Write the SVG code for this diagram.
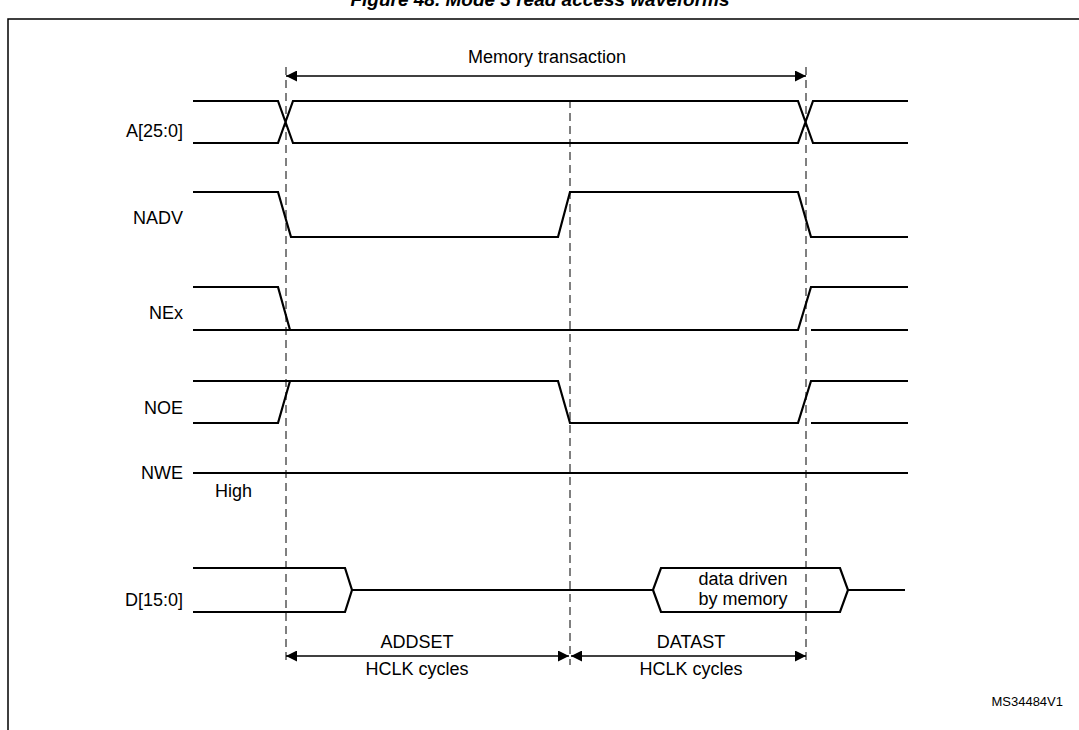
<svg xmlns="http://www.w3.org/2000/svg" width="1079" height="730" viewBox="0 0 1079 730">
<style>
text{font-family:"Liberation Sans",Arial,sans-serif;font-size:18px;fill:#000}
.lbl{text-anchor:end}
.w{fill:none;stroke:#000;stroke-width:2.2}
.d{fill:none;stroke:#000;stroke-width:1;stroke-dasharray:8,5}
.a{fill:none;stroke:#000;stroke-width:1.5}
</style>
<defs>
<marker id="ar" viewBox="0 0 10 10" refX="10" refY="5" markerWidth="11" markerHeight="11" markerUnits="userSpaceOnUse" orient="auto-start-reverse"><path d="M0,0L10,5L0,10z" fill="#000"/></marker>
</defs>
<rect width="1079" height="730" fill="#fff"/>
<text x="540" y="6" text-anchor="middle" style="font-weight:bold;font-style:italic;font-size:19px">Figure 48. Mode 3 read access waveforms</text>
<path d="M8,730V19H1079" fill="none" stroke="#000" stroke-width="1.5"/>
<g id="connectors">
<path class="d" d="M286,67V665M570,100V665M806,67V665"/>
<path class="a" d="M286,76H806" marker-start="url(#ar)" marker-end="url(#ar)"/>
<path class="a" d="M286,656H569" marker-start="url(#ar)" marker-end="url(#ar)"/>
<path class="a" d="M571,656H806" marker-start="url(#ar)" marker-end="url(#ar)"/>
</g>
<g id="A"><text class="lbl" x="183" y="137">A[25:0]</text>
<path class="w" d="M193,101H278L293,143H798L813,101H908M193,143H278L293,101H798L813,143H908"/></g>
<g id="NADV"><text class="lbl" x="183" y="224">NADV</text>
<path class="w" d="M193,192H278L291,237H558L570,192H798L811,237H908"/></g>
<g id="NEx"><text class="lbl" x="183" y="319">NEx</text>
<path class="w" d="M193,287H278L290,330H798L811,287H908M193,330H290M811,330H908"/></g>
<g id="NOE"><text class="lbl" x="183" y="414">NOE</text>
<path class="w" d="M193,423H278L290,381H558L570,423H798L811,381H908M193,381H290M811,423H908"/></g>
<g id="NWE"><text class="lbl" x="183" y="479">NWE</text><text x="215" y="497">High</text>
<path class="w" d="M193,473H908"/></g>
<g id="D"><text class="lbl" x="183" y="606">D[15:0]</text>
<path class="w" d="M193,568H345L352,590L345,612H193M352,590H653L661,568H840L848,590L840,612H661L653,590M848,590H905"/>
<text x="743" y="585" text-anchor="middle">data driven</text><text x="743" y="605" text-anchor="middle">by memory</text></g>
<g id="labels">
<text x="547" y="63" text-anchor="middle">Memory transaction</text>
<text x="417" y="648" text-anchor="middle">ADDSET</text>
<text x="417" y="675" text-anchor="middle">HCLK cycles</text>
<text x="691" y="648" text-anchor="middle">DATAST</text>
<text x="691" y="675" text-anchor="middle">HCLK cycles</text>
<text x="1063" y="706" text-anchor="end" style="font-size:13px">MS34484V1</text>
</g>
</svg>
